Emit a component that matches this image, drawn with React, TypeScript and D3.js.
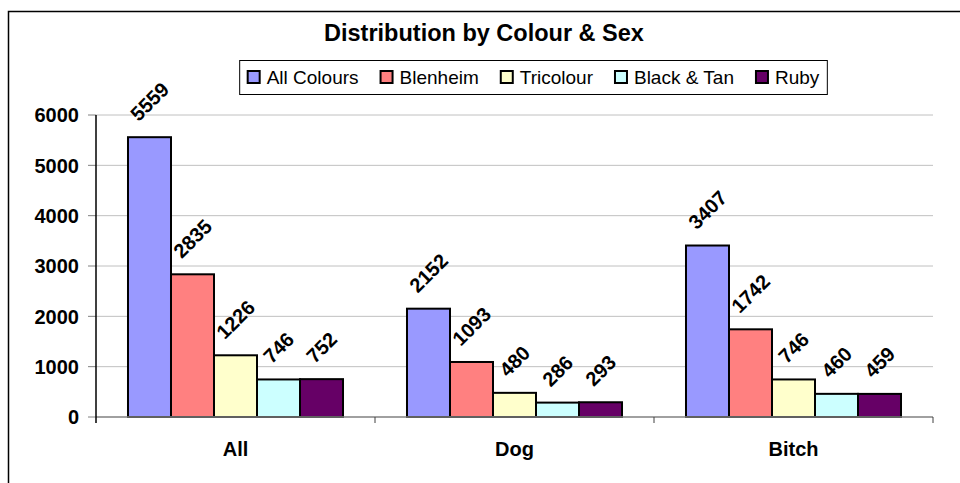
import React, { useRef, useEffect } from 'react';
import * as d3 from 'd3';

const categories = ['All', 'Dog', 'Bitch'];
const seriesNames = ['All Colours', 'Blenheim', 'Tricolour', 'Black & Tan', 'Ruby'];
const allColours = [5559, 2152, 3407];
const blenheim = [2835, 1093, 1742];
const tricolour = [1226, 480, 746];
const blackTan = [746, 286, 460];
const ruby = [752, 293, 459];
const seriesColors = ['#9999FF', '#FF8080', '#FFFFCC', '#CCFFFF', '#660066'];
const yTicks = [0, 1000, 2000, 3000, 4000, 5000, 6000];

const FONT = 'Arial, "Liberation Sans", sans-serif';

const App: React.FC = () => {
  const svgRef = useRef<SVGSVGElement>(null);
  const width = 960;
  const height = 483;

  useEffect(() => {
    if (!svgRef.current) return;
    const svg = d3.select(svgRef.current);
    svg.selectAll('*').remove();

    const values = [allColours, blenheim, tricolour, blackTan, ruby];
    const left = 96, right = 933, top = 115, bottom = 417;

    // chart area border (only top/left visible in the crop)
    svg.append('rect')
      .attr('x', 8.5).attr('y', 11.5)
      .attr('width', 1000).attr('height', 600)
      .attr('fill', 'white').attr('stroke', 'black').attr('stroke-width', 1.5);

    svg.append('text')
      .attr('x', 484).attr('y', 41)
      .attr('text-anchor', 'middle')
      .style('font-family', FONT).style('font-size', '23.5px').style('font-weight', 'bold')
      .text('Distribution by Colour & Sex');

    const y = d3.scaleLinear().domain([0, 6000]).range([bottom, top]);
    const x0 = d3.scaleBand<string>().domain(categories).range([left, right]).padding(0);
    const x1 = d3.scaleBand<string>().domain(seriesNames)
      .range([0, x0.bandwidth()]).paddingInner(0).paddingOuter(0.744);

    // gridlines
    svg.append('g').selectAll('line').data(yTicks.filter(t => t > 0)).enter().append('line')
      .attr('x1', left).attr('x2', right)
      .attr('y1', d => y(d)).attr('y2', d => y(d))
      .attr('stroke', '#c0c0c0').attr('stroke-width', 1);

    // y tick marks and labels
    const yg = svg.append('g');
    yg.selectAll('line').data(yTicks).enter().append('line')
      .attr('x1', left - 8).attr('x2', left)
      .attr('y1', d => y(d)).attr('y2', d => y(d))
      .attr('stroke', '#808080').attr('stroke-width', 1);
    yg.selectAll('text').data(yTicks).enter().append('text')
      .attr('x', 79).attr('y', d => y(d)).attr('dy', '0.36em')
      .attr('text-anchor', 'end')
      .style('font-family', FONT).style('font-size', '20px').style('font-weight', 'bold')
      .text(d => String(d));

    // bars
    const groups = svg.append('g').selectAll('g').data(categories).enter().append('g')
      .attr('transform', c => `translate(${x0(c)},0)`);
    groups.each(function (c, ci) {
      const g = d3.select(this);
      seriesNames.forEach((s, si) => {
        const v = values[si][ci];
        const bx = x1(s)!;
        const bw = x1.bandwidth();
        g.append('rect')
          .attr('x', bx).attr('y', y(v))
          .attr('width', bw).attr('height', bottom - y(v))
          .attr('fill', seriesColors[si])
          .attr('stroke', 'black').attr('stroke-width', 2);
        const fs = 20;
        const len = String(v).length * 0.556 * fs;
        const boxH = (len + 0.716 * fs) * Math.SQRT1_2;
        g.append('text')
          .attr('transform', `translate(${bx + bw / 2},${y(v) - 15 - boxH / 2}) rotate(-45)`)
          .attr('text-anchor', 'middle').attr('dy', '0.36em')
          .style('font-family', FONT).style('font-size', `${fs}px`).style('font-weight', 'bold')
          .text(String(v));
      });
    });

    // axes lines
    svg.append('line')
      .attr('x1', left).attr('x2', right).attr('y1', bottom).attr('y2', bottom)
      .attr('stroke', '#808080').attr('stroke-width', 1.5);
    svg.append('g').selectAll('line').data(categories).enter().append('line')
      .attr('x1', c => x0(c)! + x0.bandwidth()).attr('x2', c => x0(c)! + x0.bandwidth())
      .attr('y1', bottom).attr('y2', bottom + 6)
      .attr('stroke', '#404040').attr('stroke-width', 1);
    svg.append('line')
      .attr('x1', left).attr('x2', left).attr('y1', top).attr('y2', bottom + 6)
      .attr('stroke', 'black').attr('stroke-width', 1.5);

    svg.append('g').selectAll('text').data(categories).enter().append('text')
      .attr('x', c => x0(c)! + x0.bandwidth() / 2).attr('y', 456)
      .attr('text-anchor', 'middle')
      .style('font-family', FONT).style('font-size', '20px').style('font-weight', 'bold')
      .text(c => c);

    // legend
    const legend = svg.append('g');
    const box = legend.append('rect')
      .attr('fill', 'white').attr('stroke', 'black').attr('stroke-width', 1);
    const items = legend.append('g');
    let cx = 0;
    seriesNames.forEach((s, si) => {
      const it = items.append('g').attr('transform', `translate(${cx},0)`);
      it.append('rect')
        .attr('x', 0).attr('y', -6.5).attr('width', 12).attr('height', 12)
        .attr('fill', seriesColors[si]).attr('stroke', 'black').attr('stroke-width', 2);
      const t = it.append('text')
        .attr('x', 19).attr('y', 0).attr('dy', '0.36em')
        .style('font-family', FONT).style('font-size', '19px')
        .text(s);
      const tw = (t.node() as SVGTextElement).getComputedTextLength();
      cx += 19 + tw + 22;
    });
    const contentW = cx - 22;
    const boxW = contentW + 16;
    const boxX = 533.5 - boxW / 2;
    box.attr('x', boxX).attr('y', 60.5).attr('width', boxW).attr('height', 34);
    items.attr('transform', `translate(${boxX + 8},${77.5})`);
  }, []);

  return (
    <svg
      ref={svgRef}
      width={width}
      height={height}
      style={{ position: 'absolute', left: 0, top: 0, background: 'white' }}
      viewBox={`0 0 ${width} ${height}`}
    />
  );
};

export default App;
